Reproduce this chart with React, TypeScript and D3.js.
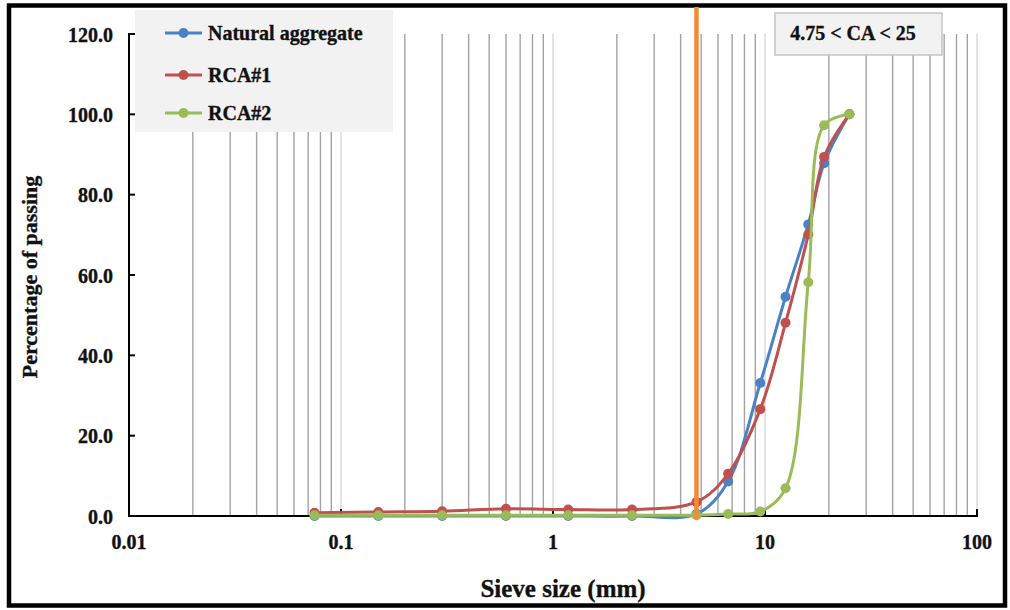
import React, { useEffect, useRef } from 'react'
import * as d3 from 'd3'

// sieve sizes (mm) and percent passing
const sieveSizes = [0.075, 0.15, 0.3, 0.6, 1.18, 2.36, 4.75, 6.7, 9.5, 12.5, 16, 19, 25]
const naturalAggregate = [0, 0, 0, 0, 0, 0, 0.5, 8.6, 33.1, 54.6, 72.6, 87.8, 100]
const rca1 = [0.8, 1.0, 1.2, 1.8, 1.6, 1.6, 3.5, 10.5, 26.6, 48.1, 70.1, 89.4, 100]
const rca2 = [0.2, 0.2, 0.2, 0.2, 0.2, 0.2, 0.2, 0.5, 1.1, 6.9, 58.2, 97.3, 100]

const seriesNames = ['Natural aggregate', 'RCA#1', 'RCA#2']
const seriesColors = ['#4A82C6', '#C0504D', '#9BBB59']
const xTicks = [0.01, 0.1, 1, 10, 100]
const yTicks = [0, 20, 40, 60, 80, 100, 120]
const caLimit = 4.75

const FONT = '"Liberation Serif", "Times New Roman", serif'

const App = () => {
  const svgRef = useRef<SVGSVGElement>(null)

  useEffect(() => {
    const svg = d3.select(svgRef.current)
    svg.selectAll('*').remove()

    const W = 1010
    const H = 610
    const left = 129
    const right = 977
    const top = 34
    const bottom = 516

    const x = d3.scaleLog().domain([0.01, 100]).range([left, right])
    const y = d3.scaleLinear().domain([0, 120]).range([bottom, top])

    svg.attr('width', W).attr('height', H)

    svg.append('rect').attr('width', W).attr('height', H).attr('fill', '#fff')

    // outer frame
    svg
      .append('rect')
      .attr('x', 9)
      .attr('y', 5.5)
      .attr('width', 996)
      .attr('height', 600)
      .attr('fill', 'none')
      .attr('stroke', '#000')
      .attr('stroke-width', 4.5)

    // vertical gridlines: minor darker, decades lighter
    const minor: number[] = []
    const major: number[] = []
    for (let e = -2; e < 2; e++) {
      for (let m = 1; m < 10; m++) {
        const v = m * Math.pow(10, e)
        if (m === 1) major.push(v)
        else minor.push(v)
      }
    }
    major.push(100)

    svg
      .append('g')
      .selectAll('line')
      .data(major.slice(1))
      .enter()
      .append('line')
      .attr('x1', (d) => x(d))
      .attr('x2', (d) => x(d))
      .attr('y1', top)
      .attr('y2', bottom)
      .attr('stroke', '#d4d4d4')
      .attr('stroke-width', 1.3)

    svg
      .append('g')
      .selectAll('line')
      .data(minor)
      .enter()
      .append('line')
      .attr('x1', (d) => x(d))
      .attr('x2', (d) => x(d))
      .attr('y1', top)
      .attr('y2', bottom)
      .attr('stroke', '#a3a3a3')
      .attr('stroke-width', 1.4)

    // axes
    const axes = svg.append('g').attr('stroke', '#000').attr('stroke-width', 2)
    axes.append('line').attr('x1', left).attr('x2', left).attr('y1', top - 1).attr('y2', bottom + 1)
    axes.append('line').attr('x1', left - 1).attr('x2', right + 1).attr('y1', bottom).attr('y2', bottom)
    axes
      .selectAll('.yt')
      .data(yTicks)
      .enter()
      .append('line')
      .attr('x1', left)
      .attr('x2', left + 6)
      .attr('y1', (d) => y(d))
      .attr('y2', (d) => y(d))
    axes
      .selectAll('.xt')
      .data(xTicks.slice(1))
      .enter()
      .append('line')
      .attr('x1', (d) => x(d))
      .attr('x2', (d) => x(d))
      .attr('y1', bottom)
      .attr('y2', bottom - 7)

    // bold text helper, a thin stroke makes it as heavy as the scan
    const boldText = (sel: any, size: number) =>
      sel
        .attr('font-family', FONT)
        .attr('font-weight', 'bold')
        .attr('font-size', size)
        .attr('fill', '#111')
        .attr('stroke', '#111')
        .attr('stroke-width', 0.35)

    // tick labels
    boldText(
      svg
        .append('g')
        .selectAll('text')
        .data(yTicks)
        .enter()
        .append('text')
        .attr('x', 113)
        .attr('y', (d) => y(d) + 7.5)
        .attr('text-anchor', 'end'),
      20
    ).text((d) => d3.format('.1f')(d))

    boldText(
      svg
        .append('g')
        .selectAll('text')
        .data(xTicks)
        .enter()
        .append('text')
        .attr('x', (d) => x(d))
        .attr('y', 549)
        .attr('text-anchor', 'middle'),
      20
    ).text((d) => String(d))

    // axis titles
    boldText(
      svg.append('text').attr('x', 563).attr('y', 597).attr('text-anchor', 'middle'),
      25
    ).text('Sieve size (mm)')

    boldText(
      svg
        .append('text')
        .attr('transform', 'translate(37,277) rotate(-90)')
        .attr('text-anchor', 'middle'),
      22
    ).text('Percentage of passing')

    // series
    const allSeries = [naturalAggregate, rca1, rca2].map((vals, i) => ({
      name: seriesNames[i],
      color: seriesColors[i],
      points: sieveSizes.map((s, j) => [s, vals[j]] as [number, number]),
    }))

    const line = d3
      .line<[number, number]>()
      .x((d) => x(d[0]))
      .y((d) => y(d[1]))
      .curve(d3.curveCatmullRom.alpha(0.5))

    allSeries.forEach((s) => {
      const g = svg.append('g')
      g.append('path')
        .attr('d', line(s.points))
        .attr('fill', 'none')
        .attr('stroke', s.color)
        .attr('stroke-width', 3)
      g.selectAll('circle')
        .data(s.points)
        .enter()
        .append('circle')
        .attr('cx', (d) => x(d[0]))
        .attr('cy', (d) => y(d[1]))
        .attr('r', 5)
        .attr('fill', s.color)
    })

    // 4.75 mm limit line
    svg
      .append('line')
      .attr('x1', x(caLimit))
      .attr('x2', x(caLimit))
      .attr('y1', 7)
      .attr('y2', bottom + 3)
      .attr('stroke', '#F38B34')
      .attr('stroke-width', 4.5)

    // legend
    const legend = svg.append('g')
    legend
      .append('rect')
      .attr('x', 135)
      .attr('y', 10)
      .attr('width', 258)
      .attr('height', 122)
      .attr('fill', '#f2f2f2')
    const legendY = [33, 75, 113]
    allSeries.forEach((s, i) => {
      legend
        .append('line')
        .attr('x1', 165)
        .attr('x2', 202)
        .attr('y1', legendY[i])
        .attr('y2', legendY[i])
        .attr('stroke', s.color)
        .attr('stroke-width', 3)
      legend
        .append('circle')
        .attr('cx', 183.5)
        .attr('cy', legendY[i])
        .attr('r', 5)
        .attr('fill', s.color)
      boldText(
        legend
          .append('text')
          .attr('x', 208)
          .attr('y', legendY[i] + 6.5),
        20
      ).text(s.name)
    })

    // annotation box
    svg
      .append('rect')
      .attr('x', 775)
      .attr('y', 13)
      .attr('width', 167)
      .attr('height', 42)
      .attr('fill', '#f2f2f2')
      .attr('stroke', '#c4c4c4')
      .attr('stroke-width', 1.5)
    boldText(
      svg.append('text').attr('x', 853).attr('y', 40).attr('text-anchor', 'middle'),
      20
    ).text('4.75 < CA < 25')
  }, [])

  return <svg ref={svgRef} style={{ position: 'absolute', left: 0, top: 0 }}></svg>
}

export default App
